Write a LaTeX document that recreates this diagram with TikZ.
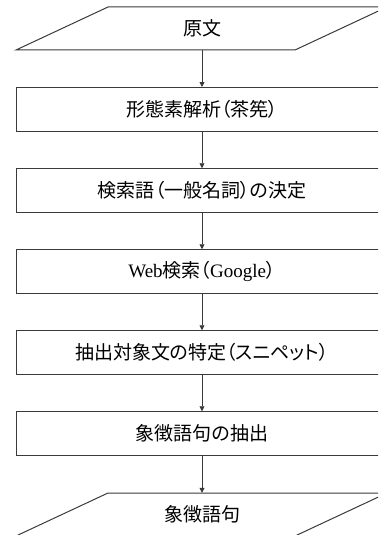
\documentclass[tikz,border=0pt]{standalone}
\usepackage{fontspec}
\setmainfont{Liberation Serif}
\newfontfamily\jp[RawFeature=+palt]{Noto Sans CJK JP}
\usetikzlibrary{arrows.meta,calc}
\definecolor{lc}{HTML}{3A3A3A}
\begin{document}
\begin{tikzpicture}[x=1pt,y=-1pt,
  txt/.style={font=\jp\fontsize{19}{19}\selectfont, text=black},
  box/.style={txt, draw=lc, line width=1pt, minimum width=372pt, minimum height=43.5pt, inner sep=0pt},
  io/.style={txt, minimum width=200pt, minimum height=43pt, inner sep=0pt},
  ioshape/.style={draw=lc, line width=1pt},
  arr/.style={draw=lc, line width=0.8pt, -{Triangle[length=5pt,width=5pt]}}]
\useasboundingbox (0,0) rectangle (378,535);
\clip (0,0) rectangle (378,535);
\node[io]  (n0) at (202,28.5)   {原文};
\node[box] (n1) at (202,109.25) {形態素解析（茶筅）};
\node[box] (n2) at (202,190.5)  {検索語（一般名詞）の決定};
\node[box] (n3) at (202,271.5)  {{\rmfamily Web}検索（{\rmfamily Google}）};
\node[box] (n4) at (202,352.5)  {抽出対象文の特定（スニペット）};
\node[box] (n5) at (202,433.5)  {象徴語句の抽出};
\node[io]  (n6) at (202,514.5)  {象徴語句};
\foreach \n in {n0,n6}{
  \draw[ioshape] ($(\n)+(-186,21.5)$) -- ($(\n)+(-94,-21.5)$) -- ($(\n)+(185,-21.5)$) -- ($(\n)+(93,21.5)$) -- cycle;
}
\draw[arr] (n0.south) -- (n1.north);
\draw[arr] (n1.south) -- (n2.north);
\draw[arr] (n2.south) -- (n3.north);
\draw[arr] (n3.south) -- (n4.north);
\draw[arr] (n4.south) -- (n5.north);
\draw[arr] (n5.south) -- (n6.north);
\end{tikzpicture}
\end{document}
